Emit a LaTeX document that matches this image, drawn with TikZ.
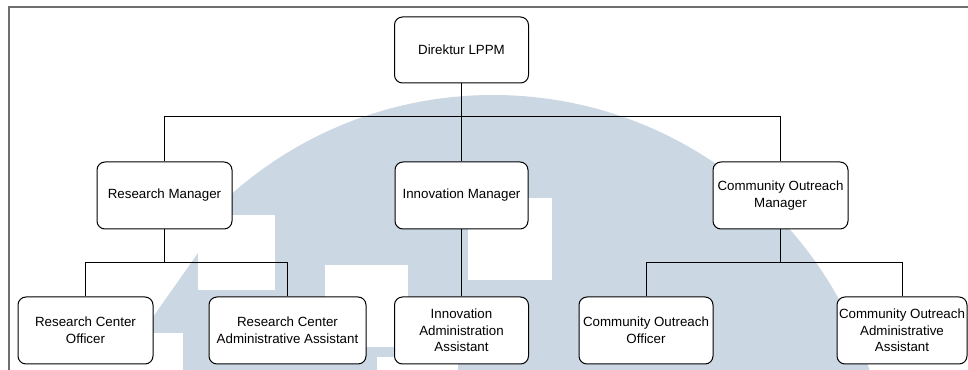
\documentclass[tikz,border=0pt]{standalone}
\usepackage{fontspec}
\setmainfont{Liberation Sans}
\definecolor{wm}{HTML}{CBD8E3}
\definecolor{framegray}{RGB}{110,110,110}
\begin{document}
\begin{tikzpicture}[x=0.75pt,y=-0.75pt,
  box/.style={draw=black, rounded corners=6pt, fill=white, line width=0.75pt,
    align=center, inner sep=0pt, minimum height=50.25pt,
    font=\fontsize{10}{12.5}\selectfont},
  conn/.style={draw=black, line width=0.75pt}]
\useasboundingbox (0,0) rectangle (968,370);
% watermark
\begin{scope}
  \clip (198,0) -- (198,253) -- (153,317) -- (153,333) -- (183,333) -- (183,370) -- (968,370) -- (968,0) -- cycle;
  \fill[wm] (493,490) circle[radius=296.25pt];
\end{scope}
\fill[white] (198,215) rectangle (275,290);
\fill[white] (325,265) rectangle (408,347);
\fill[white] (468,198) rectangle (552,280);
\fill[white] (377,357) rectangle (458,370);
% frame
\draw[framegray, line width=1.1pt] (9,370) -- (9,7) -- (968,7);
% nodes
\node[box, minimum width=100.5pt, minimum height=49.5pt] (dir) at (461.5,50) {Direktur LPPM};
\node[box, minimum width=101.25pt] (rm) at (164.5,195.5) {Research Manager};
\node[box, minimum width=99.75pt] (im) at (461.5,195.5) {Innovation Manager};
\node[box, minimum width=101.25pt] (com) at (780.5,195.5) {Community Outreach\\Manager};
\node[box, minimum width=101.25pt] (rco) at (85.5,330.5) {Research Center\\Officer};
\node[box, minimum width=117.75pt] (rcaa) at (287.5,330.5) {Research Center\\Administrative Assistant};
\node[box, minimum width=100.5pt] (iaa) at (461.5,330.5) {Innovation\\Administration\\Assistant};
\node[box, minimum width=100.5pt] (coo) at (646,330.5) {Community Outreach\\Officer};
\node[box, minimum width=97.5pt] (coaa) at (902,330.5) {Community Outreach\\Administrative\\Assistant};
% connectors
\coordinate (b1) at (0,117);
\coordinate (b2) at (0,263);
\draw[conn] (dir.south) -- (im.north);
\draw[conn] (rm.north) |- (com.north |- b1) -- (com.north);
\draw[conn] (rm.south) -- (rm.south |- b2);
\draw[conn] (rco.north) |- (rcaa.north |- b2) -- (rcaa.north);
\draw[conn] (im.south) -- (iaa.north);
\draw[conn] (com.south) -- (com.south |- b2);
\draw[conn] (coo.north) |- (coaa.north |- b2) -- (coaa.north);
\end{tikzpicture}
\end{document}
